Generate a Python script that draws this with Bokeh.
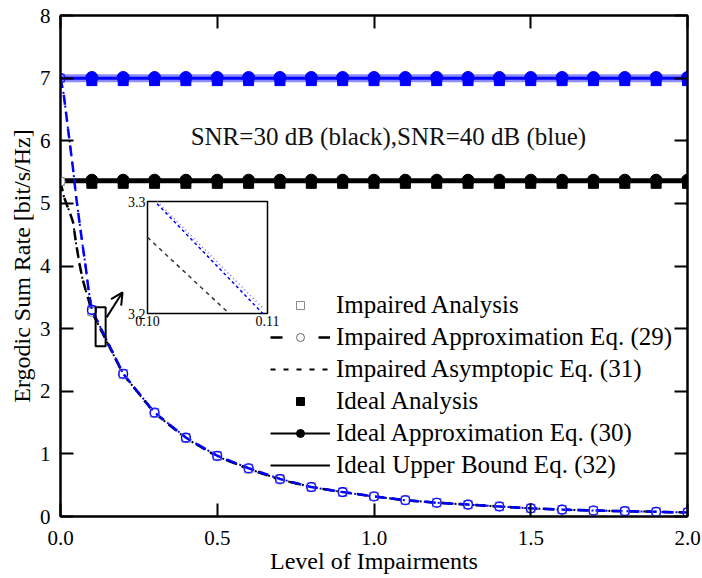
from bokeh.plotting import figure
from bokeh.models import (Range1d, LinearAxis, FixedTicker, PrintfTickFormatter,
                          Legend, LegendItem, Arrow, OpenHead)
from bokeh.core.properties import value
from bokeh.embed import file_html
from bokeh.resources import INLINE

FONT = "Liberation Serif"
NAN = float("nan")

# ---------------- data ----------------
x_curve = [0.0, 0.01, 0.02, 0.03, 0.04, 0.05, 0.06, 0.07, 0.08, 0.09,
           0.1, 0.2, 0.3, 0.4, 0.5, 0.6, 0.7, 0.8, 0.9, 1.0,
           1.1, 1.2, 1.3, 1.4, 1.5, 1.6, 1.7, 1.8, 1.9, 2.0]
impaired_40 = [7.0, 6.75, 6.35, 5.95, 5.55, 5.1, 4.72, 4.35, 4.0, 3.6,
               3.30, 2.28, 1.66, 1.26, 0.97, 0.77, 0.60, 0.47, 0.39, 0.32,
               0.26, 0.22, 0.19, 0.16, 0.13, 0.11, 0.095, 0.085, 0.075, 0.065]
impaired_30 = [5.35, 5.12, 4.98, 4.85, 4.7, 4.35, 4.05, 3.8, 3.62, 3.45,
               3.27, 2.27, 1.65, 1.25, 0.96, 0.76, 0.59, 0.47, 0.39, 0.32,
               0.26, 0.22, 0.19, 0.16, 0.13, 0.11, 0.095, 0.085, 0.075, 0.065]

x_marks = [0.0, 0.1, 0.2, 0.3, 0.4, 0.5, 0.6, 0.7, 0.8, 0.9, 1.0,
           1.1, 1.2, 1.3, 1.4, 1.5, 1.6, 1.7, 1.8, 1.9, 2.0]
imp40_marks = [7.0, 3.30, 2.28, 1.66, 1.26, 0.97, 0.77, 0.60, 0.47, 0.39, 0.32,
               0.26, 0.22, 0.19, 0.16, 0.13, 0.11, 0.095, 0.085, 0.075, 0.065]
imp30_marks = [5.35, 3.27, 2.27, 1.65, 1.25, 0.96, 0.76, 0.59, 0.47, 0.39, 0.32,
               0.26, 0.22, 0.19, 0.16, 0.13, 0.11, 0.095, 0.085, 0.075, 0.065]

x_ideal = [0.1, 0.2, 0.3, 0.4, 0.5, 0.6, 0.7, 0.8, 0.9, 1.0,
           1.1, 1.2, 1.3, 1.4, 1.5, 1.6, 1.7, 1.8, 1.9, 2.0]
ideal_40_approx = [7.01] * 20
ideal_40_analysis = [6.96] * 20
ideal_30_approx = [5.37] * 20
ideal_30_analysis = [5.32] * 20
x_ideal_line = [0.0, 2.0]
ideal_40_line = [7.0, 7.0]
ideal_30_line = [5.36, 5.36]

# zoomed inset (x 0.10-0.11, y 3.2-3.3)
inset_x_lim = [0.10, 0.11]
inset_y_lim = [3.2, 3.3]
inset_blue_x = [0.1008, 0.1096]
inset_blue_a = [3.298, 3.200]
inset_blue_b = [3.300, 3.205]
inset_black_x = [0.1000, 0.1068]
inset_black_y = [3.268, 3.200]
# zoom-box marker and arrow in main coordinates
box_x = [0.112, 0.144]
box_y = [2.72, 3.34]
arrow_x = [0.147, 0.198]
arrow_y = [3.18, 3.58]

x_ticks = [0.0, 0.5, 1.0, 1.5, 2.0]
y_ticks = [0, 1, 2, 3, 4, 5, 6, 7, 8]

BLUE = "#0000ff"
LBLUE = "#6f6fff"

p = figure(width=702, height=578, x_range=Range1d(0, 2), y_range=Range1d(0, 8),
           output_backend="svg", toolbar_location=None,
           min_border_left=60, min_border_right=15, min_border_top=15,
           min_border_bottom=62)
p.xgrid.visible = False
p.ygrid.visible = False
p.outline_line_color = "black"
p.outline_line_width = 2
p.background_fill_color = "white"
p.border_fill_color = "white"

def style_axis(ax, labels=True):
    ax.axis_line_color = "black"
    ax.axis_line_width = 2
    ax.major_tick_in = 13
    ax.major_tick_out = 0
    ax.major_tick_line_width = 2
    ax.minor_tick_line_color = None
    if labels:
        ax.major_label_text_font = FONT
        ax.major_label_text_font_size = "21px"
        ax.major_label_text_color = "black"
        ax.axis_label_text_font = FONT
        ax.axis_label_text_font_size = "24px"
        ax.axis_label_text_font_style = "normal"
        ax.axis_label_text_color = "black"
    else:
        ax.major_label_text_color = None
        ax.major_label_standoff = 0

xa = p.xaxis[0]
xa.ticker = FixedTicker(ticks=x_ticks)
xa.formatter = PrintfTickFormatter(format="%.1f")
xa.axis_label = "Level of Impairments"
style_axis(xa)
xa.major_label_standoff = 14
xa.axis_label_standoff = 0

ya = p.yaxis[0]
ya.ticker = FixedTicker(ticks=y_ticks)
ya.axis_label = "Ergodic Sum Rate [bit/s/Hz]"
style_axis(ya)
ya.major_label_standoff = 10
ya.axis_label_standoff = 2

top = LinearAxis(ticker=FixedTicker(ticks=x_ticks))
style_axis(top, labels=False)
p.add_layout(top, "above")
right = LinearAxis(ticker=FixedTicker(ticks=y_ticks))
style_axis(right, labels=False)
p.add_layout(right, "right")

# ---------- ideal (flat) lines ----------
p.line(x_ideal_line, ideal_40_line, line_color=BLUE, line_width=8, line_alpha=0.45)
p.line(x_ideal_line, ideal_40_line, line_color=BLUE, line_width=3)
p.line(x_ideal_line, ideal_30_line, line_color="black", line_width=5)
p.scatter(x_ideal, ideal_40_analysis, marker="square", size=10, fill_color=BLUE, line_color=BLUE)
p.scatter(x_ideal, ideal_40_approx, marker="circle", size=12, fill_color=BLUE, line_color=BLUE)
p.scatter(x_ideal, ideal_30_analysis, marker="square", size=10, fill_color="black", line_color="black")
p.scatter(x_ideal, ideal_30_approx, marker="circle", size=12, fill_color="black", line_color="black")

# ---------- impaired curves ----------
p.line(x_curve, impaired_30, line_color="black", line_width=2.5, line_dash="10 7")
p.line(x_curve, impaired_30, line_color="black", line_width=2, line_dash="2 5")
p.scatter(x_marks, imp30_marks, marker="square", size=8, fill_color="white", line_color="#999999")
p.scatter(x_marks, imp30_marks, marker="circle", size=9, fill_color="white", line_color="#888888")

p.line(x_curve, impaired_40, line_color=BLUE, line_width=2.5, line_dash="10 7")
p.line(x_curve, impaired_40, line_color=BLUE, line_width=2, line_dash="2 5")
p.scatter(x_marks, imp40_marks, marker="square", size=8, fill_color=None, line_color=LBLUE, line_width=1.3)
p.scatter(x_marks, imp40_marks, marker="circle", size=9, fill_color=None, line_color=BLUE, line_width=1.1)

# ---------- zoom box + arrow ----------
p.quad(left=[box_x[0]], right=[box_x[1]], bottom=[box_y[0]], top=[box_y[1]],
       fill_color=None, line_color="black", line_width=2)
p.add_layout(Arrow(x_start=arrow_x[0], y_start=arrow_y[0], x_end=arrow_x[1], y_end=arrow_y[1],
                   line_width=2, line_color="black",
                   end=OpenHead(size=12, line_width=2, line_color="black")))

# ---------- inset via extra ranges ----------
fx0, fx1, fy0, fy1 = 60, 687, 15, 516
ix0, ix1, iy0, iy1 = 147, 267, 201, 313
sx = (inset_x_lim[1] - inset_x_lim[0]) / (ix1 - ix0)
sy = (inset_y_lim[1] - inset_y_lim[0]) / (iy1 - iy0)
p.extra_x_ranges = {"ix": Range1d(inset_x_lim[0] - (ix0 - fx0) * sx, inset_x_lim[1] + (fx1 - ix1) * sx)}
p.extra_y_ranges = {"iy": Range1d(inset_y_lim[0] - (fy1 - iy1) * sy, inset_y_lim[1] + (iy0 - fy0) * sy)}
p.quad(left=[inset_x_lim[0]], right=[inset_x_lim[1]], bottom=[inset_y_lim[0]], top=[inset_y_lim[1]],
       fill_color="white", line_color="black", line_width=1.5, x_range_name="ix", y_range_name="iy")
p.line(inset_blue_x, inset_blue_a, line_color=BLUE, line_width=1.5, line_dash="3 3",
       x_range_name="ix", y_range_name="iy")
p.line(inset_blue_x, inset_blue_b, line_color=LBLUE, line_width=1.5, line_dash="1 3",
       x_range_name="ix", y_range_name="iy")
p.line(inset_black_x, inset_black_y, line_color="#333333", line_width=1.5, line_dash="4 4",
       x_range_name="ix", y_range_name="iy")
p.text(x=[inset_x_lim[0], inset_x_lim[0]], y=inset_y_lim[::-1], text=["3.3", "3.2"],
       text_font=value(FONT), text_font_size="14px", text_align="right",
       text_baseline="middle", x_offset=-2, x_range_name="ix", y_range_name="iy")
p.text(x=inset_x_lim, y=[inset_y_lim[0], inset_y_lim[0]], text=["0.10", "0.11"],
       text_font=value(FONT), text_font_size="14px", text_align="center",
       text_baseline="top", y_offset=2, x_range_name="ix", y_range_name="iy")

# ---------- annotation ----------
p.text(x=[1.046], y=[6.07], text=["SNR=30 dB (black),SNR=40 dB (blue)"],
       text_font=value(FONT), text_font_size="25px", text_align="center",
       text_baseline="middle", text_color="#111111")

# ---------- legend (black sample glyphs, no plotted data) ----------
lg_sq_open = p.scatter([NAN], [NAN], marker="square", size=9, fill_color="white", line_color="#888888")
lg_dash = p.line([NAN], [NAN], line_color="black", line_width=2.5, line_dash="12 36")
lg_circ_open = p.scatter([NAN], [NAN], marker="circle", size=10, fill_color="white", line_color="#666666")
lg_dot = p.line([NAN], [NAN], line_color="black", line_width=2, line_dash="5 8")
lg_sq_fill = p.scatter([NAN], [NAN], marker="square", size=10, fill_color="black", line_color="black")
lg_solid = p.line([NAN], [NAN], line_color="black", line_width=2)
lg_circ_fill = p.scatter([NAN], [NAN], marker="circle", size=10, fill_color="black", line_color="black")
lg_solid2 = p.line([NAN], [NAN], line_color="black", line_width=2)

legend = Legend(items=[
    LegendItem(label="Impaired Analysis", renderers=[lg_sq_open]),
    LegendItem(label="Impaired Approximation Eq. (29)", renderers=[lg_dash, lg_circ_open]),
    LegendItem(label="Impaired Asymptopic Eq. (31)", renderers=[lg_dot]),
    LegendItem(label="Ideal Analysis", renderers=[lg_sq_fill]),
    LegendItem(label="Ideal Approximation Eq. (30)", renderers=[lg_solid, lg_circ_fill]),
    LegendItem(label="Ideal Upper Bound Eq. (32)", renderers=[lg_solid2]),
], location=(210, 37))
legend.label_text_font = FONT
legend.label_text_font_size = "25px"
legend.label_text_color = "black"
legend.glyph_width = 60
legend.glyph_height = 20
legend.label_height = 20
legend.label_standoff = 6
legend.spacing = 4
legend.padding = 0
legend.margin = 0
legend.border_line_color = None
legend.background_fill_alpha = 0
p.add_layout(legend, "center")

open("out.html", "w").write(file_html(p, INLINE))
